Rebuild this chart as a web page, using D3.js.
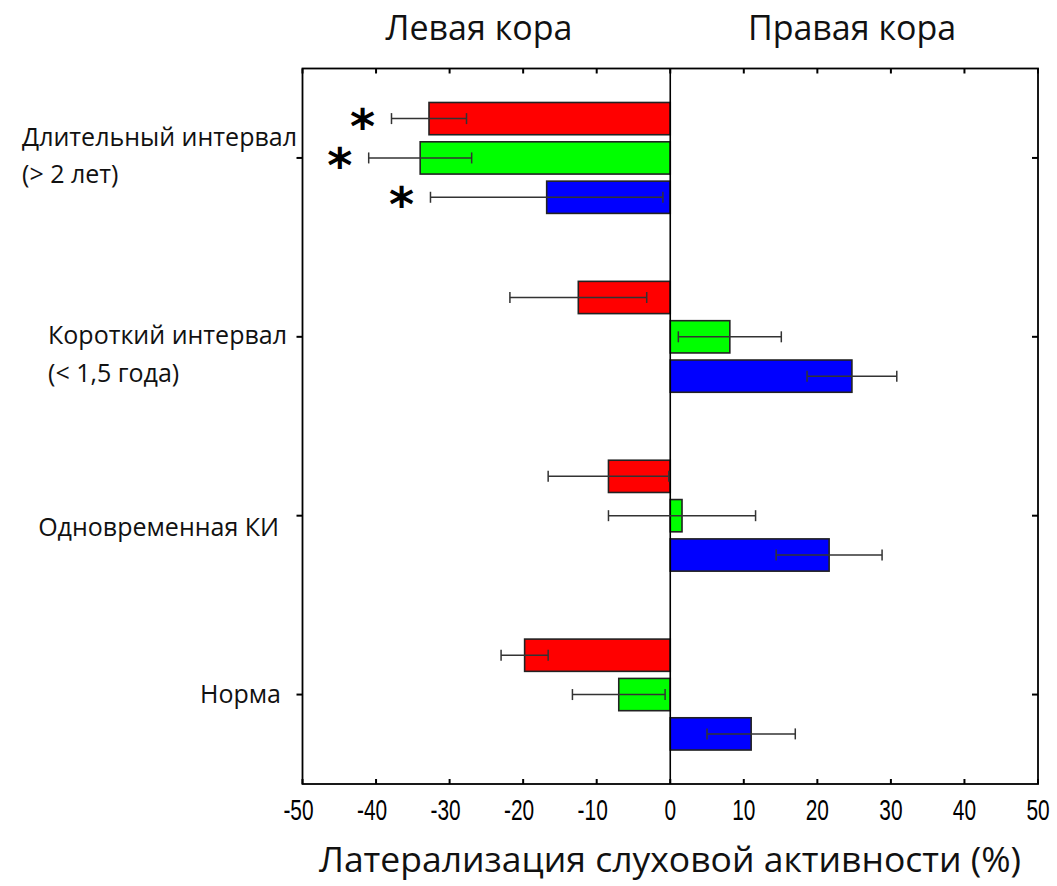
<!DOCTYPE html>
<html lang="ru">
<head>
<meta charset="utf-8">
<title>Латерализация</title>
<script src="https://d3js.org/d3.v7.min.js"></script>
<style>
  body { margin: 0; background: #fff; }
  .lbl { font-family: "Open Sans", "Noto Sans", sans-serif; fill: #111; }
  .tick-lbl { font-family: "Liberation Sans", Arial, sans-serif; font-size: 29px; fill: #000; }
</style>
</head>
<body>
<script>
// data
const groups = ["Длительный интервал", "Короткий интервал", "Одновременная КИ", "Норма"];
const groupSub = ["(> 2 лет)", "(< 1,5 года)", "", ""];
const series = ["red", "green", "blue"];
const redVals = [-32.8, -12.5, -8.4, -19.8];
const redErr = [5.1, 9.3, 8.2, 3.2];
const greenVals = [-34.0, 8.1, 1.6, -7.0];
const greenErr = [7.0, 7.0, 10.0, 6.3];
const blueVals = [-16.8, 24.7, 21.6, 11.0];
const blueErr = [15.8, 6.1, 7.2, 6.0];
const starred = [[true, true, true], [false, false, false], [false, false, false], [false, false, false]];
const xTicks = [-50, -40, -30, -20, -10, 0, 10, 20, 30, 40, 50];

const colors = { red: "#ff0000", green: "#00ff00", blue: "#0000ff" };
const vals = { red: redVals, green: greenVals, blue: blueVals };
const errs = { red: redErr, green: greenErr, blue: blueErr };

const W = 1057, H = 886;
const mLeft = 302.5, mRight = 1038, mTop = 68.5, mBottom = 784;

const svg = d3.select("body").append("svg").attr("width", W).attr("height", H);

const x = d3.scaleLinear().domain([-50, 50]).range([mLeft, mRight]);
const y = d3.scaleBand().domain(groups).range([mTop, mBottom]);
const ySub = d3.scaleBand().domain(series).range([-59, 59]).paddingInner(0.18).paddingOuter(0.09);

const rows = [];
groups.forEach((g, i) => {
  series.forEach((s, j) => {
    rows.push({ g: g, s: s, v: vals[s][i], e: errs[s][i], star: starred[i][j] });
  });
});
const cy = d => y(d.g) + y.bandwidth() / 2 + ySub(d.s);

// bars
svg.append("g").selectAll("rect").data(rows).enter().append("rect")
  .attr("x", d => x(Math.min(0, d.v)))
  .attr("y", d => cy(d))
  .attr("width", d => Math.abs(x(d.v) - x(0)))
  .attr("height", ySub.bandwidth())
  .attr("fill", d => colors[d.s])
  .attr("stroke", "#222")
  .attr("stroke-width", 1.6);

// zero line
svg.append("line").attr("x1", x(0)).attr("x2", x(0)).attr("y1", mTop).attr("y2", mBottom)
  .attr("stroke", "#000").attr("stroke-width", 1.6);

// error bars
const eb = svg.append("g").attr("stroke", "#333").attr("stroke-width", 1.5);
rows.forEach(d => {
  const yy = cy(d) + ySub.bandwidth() / 2;
  eb.append("line").attr("x1", x(d.v - d.e)).attr("x2", x(d.v + d.e)).attr("y1", yy).attr("y2", yy);
  [d.v - d.e, d.v + d.e].forEach(v => {
    eb.append("line").attr("x1", x(v)).attr("x2", x(v)).attr("y1", yy - 5.5).attr("y2", yy + 5.5);
  });
});

// significance stars
svg.append("g").selectAll("text").data(rows.filter(d => d.star)).enter().append("text")
  .attr("x", d => x(d.v - d.e) - 29)
  .attr("y", d => cy(d) + ySub.bandwidth() / 2 + 24)
  .attr("text-anchor", "middle")
  .attr("font-family", "DejaVu Sans, sans-serif")
  .attr("font-weight", "bold")
  .attr("font-size", "48px")
  .text("*");

// frame
svg.append("rect").attr("x", mLeft).attr("y", mTop).attr("width", mRight - mLeft).attr("height", mBottom - mTop)
  .attr("fill", "none").attr("stroke", "#000").attr("stroke-width", 1.8);

// x axis ticks (inward, top & bottom)
const tk = svg.append("g").attr("stroke", "#000").attr("stroke-width", 2);
xTicks.forEach(t => {
  tk.append("line").attr("x1", x(t)).attr("x2", x(t)).attr("y1", mBottom).attr("y2", mBottom - 5);
  tk.append("line").attr("x1", x(t)).attr("x2", x(t)).attr("y1", mTop).attr("y2", mTop + 5);
});
// y ticks: left outward, right inward
groups.forEach(g => {
  const yy = y(g) + y.bandwidth() / 2;
  tk.append("line").attr("x1", mLeft - 6).attr("x2", mLeft).attr("y1", yy).attr("y2", yy);
  tk.append("line").attr("x1", mRight - 6).attr("x2", mRight).attr("y1", yy).attr("y2", yy);
});

// narrow tick labels
svg.append("g").selectAll("text").data(xTicks).enter().append("text")
  .attr("class", "tick-lbl")
  .attr("transform", d => "translate(" + (x(d) - (d < 0 ? 4 : 0)) + ",820) scale(0.72,1)")
  .attr("text-anchor", "middle")
  .text(d => d);

// category labels
const labelRight = [297, 287, 279, 281];
const labelDy = [[-12, 25], [7, 45], [20], [8]];
groups.forEach((g, i) => {
  const yy = y(g) + y.bandwidth() / 2;
  const t1 = svg.append("text").attr("class", "lbl").attr("font-size", "25px")
    .attr("text-anchor", "end")
    .attr("x", labelRight[i])
    .attr("y", yy + labelDy[i][0])
    .text(g);
  if (groupSub[i]) {
    const bb = t1.node().getBBox();
    svg.append("text").attr("class", "lbl").attr("font-size", "25px")
      .attr("x", bb.x).attr("y", yy + labelDy[i][1]).text(groupSub[i]);
  }
});

// titles
svg.append("text").attr("class", "lbl").attr("font-size", "34px").attr("text-anchor", "middle")
  .attr("x", 479).attr("y", 40).text("Левая кора");
svg.append("text").attr("class", "lbl").attr("font-size", "34px").attr("text-anchor", "middle")
  .attr("x", 852).attr("y", 40).text("Правая кора");
svg.append("text").attr("class", "lbl").attr("font-size", "35.5px").attr("text-anchor", "middle")
  .attr("x", 670).attr("y", 872).text("Латерализация слуховой активности (%)");
</script>
</body>
</html>
